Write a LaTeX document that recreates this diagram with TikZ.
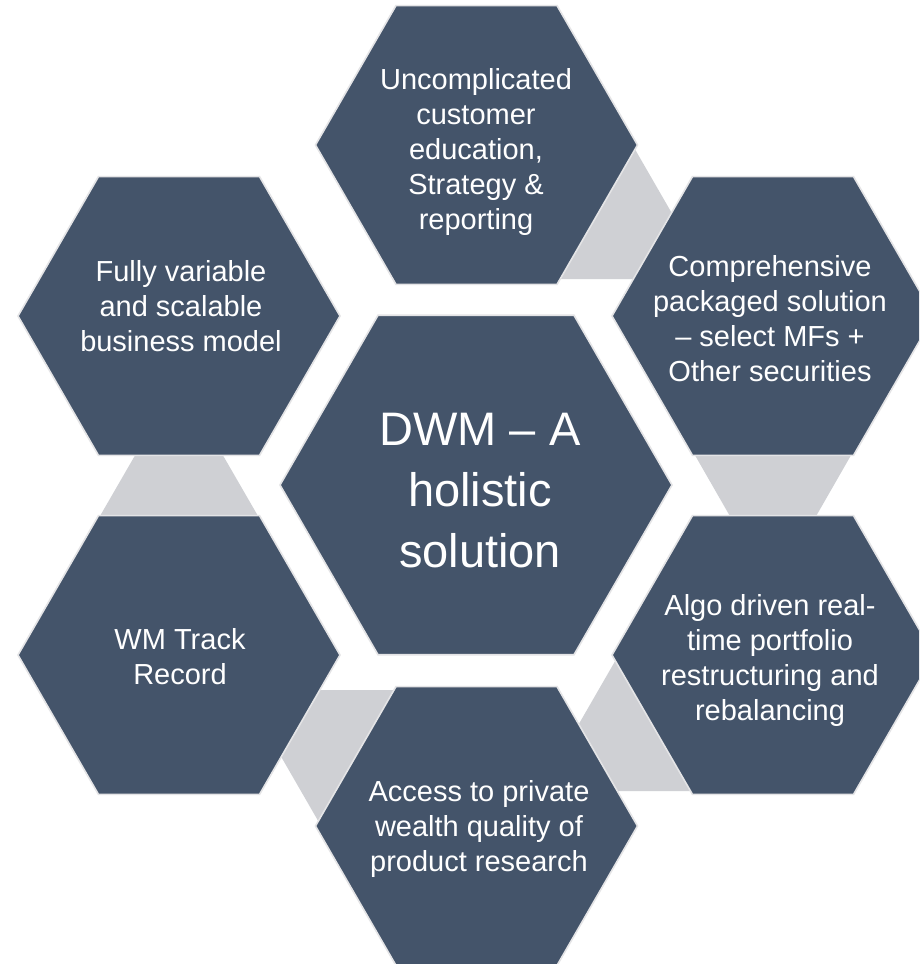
\documentclass[tikz,border=0pt]{standalone}
\usepackage{fontspec}
\setmainfont{Liberation Sans}
\definecolor{hexblue}{RGB}{68,84,106}
\definecolor{hexedge}{RGB}{228,228,230}
\definecolor{linkgrey}{RGB}{207,208,212}
\tikzset{
  hexcell/.style={fill=hexblue, draw=hexedge, line width=1.6pt, line join=miter},
  linkpiece/.style={fill=linkgrey},
  celltext/.style={text=white, align=center, inner sep=0pt,
    font=\fontsize{29}{35}\selectfont},
  hubtext/.style={text=white, align=center, inner sep=0pt,
    font=\fontsize{47}{61}\selectfont}
}
% flat-topped hexagon around a centre, given its circumradius
\newcommand{\hexshape}[3]{%
  \path[hexcell, shift={(#1,#2)}] (0:#3) -- (60:#3) -- (120:#3) -- (180:#3)
    -- (240:#3) -- (300:#3) -- cycle;}
\begin{document}
\begin{tikzpicture}[x=1pt, y=-1pt]
  \clip (0,0) rectangle (919,964);
  \fill[white] (0,0) rectangle (919,964);

  % grey links between neighbouring outer cells (partly hidden below them)
  \path[linkpiece] (600,145) -- (632.5,145) -- (709.8,279) -- (540,279) -- cycle;
  \path[linkpiece] (692,450) -- (854,450) -- (815,518) -- (731,518) -- cycle;
  \path[linkpiece] (627.3,640) -- (720,640) -- (720,791) -- (540.2,791) -- cycle;
  \path[linkpiece] (300,690) -- (420,690) -- (420,830) -- (323.4,830) -- (271.5,740) -- cycle;
  \path[linkpiece] (137,452) -- (221,452) -- (260.3,520) -- (97.7,520) -- cycle;

  % outer cells and hub
  \hexshape{476.5}{145}{161}
  \hexshape{773}{316}{161}
  \hexshape{773}{655}{161}
  \hexshape{476.5}{826}{161}
  \hexshape{179}{655}{161}
  \hexshape{179}{316}{161}
  \hexshape{476}{485}{196}

  \node[hubtext] (hub) at (480,491) {DWM -- A\\holistic\\solution};
  \node[celltext] (edu) at (476,152) {Uncomplicated\\customer\\education,\\Strategy \&\\reporting};
  \node[celltext] (pack) at (770,319) {Comprehensive\\packaged solution\\-- select MFs +\\Other securities};
  \node[celltext] (algo) at (770,660) {Algo driven real-\\time portfolio\\restructuring and\\rebalancing};
  \node[celltext] (access) at (479,829) {Access to private\\wealth quality of\\product research};
  \node[celltext] (track) at (180,657) {WM Track\\Record};
  \node[celltext] (model) at (181,306) {Fully variable\\and scalable\\business model};
\end{tikzpicture}
\end{document}
